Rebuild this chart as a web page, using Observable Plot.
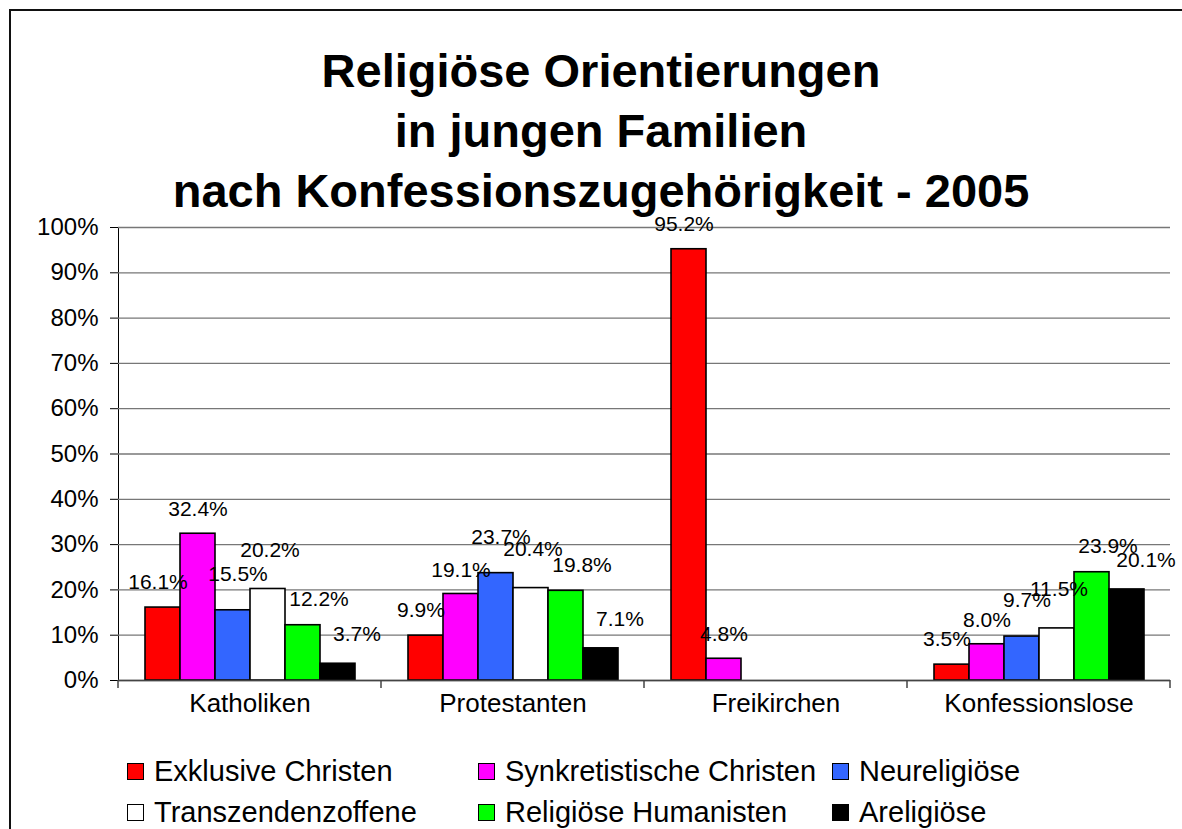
<!DOCTYPE html>
<html>
<head>
<meta charset="utf-8">
<script src="https://cdn.jsdelivr.net/npm/d3@7"></script>
<script src="https://cdn.jsdelivr.net/npm/@observablehq/plot@0.6"></script>
<style>
  html, body { margin: 0; padding: 0; background: #fff; width: 1182px; height: 829px; overflow: hidden; }
  body { position: relative; font-family: "Liberation Sans", Arial, sans-serif; }
  #border { position: absolute; left: 9px; top: 9px; width: 2000px; height: 2000px;
            border-left: 2px solid #111; border-top: 2px solid #111; box-sizing: border-box; }
  #title { position: absolute; left: 0; top: 41px; width: 1202px; text-align: center;
           font-size: 47px; font-weight: bold; line-height: 60px; color: #000; }
  #chart { position: absolute; left: 0; top: 200px; }
  #chart svg [aria-label="fx-axis tick label"] { font-size: 26px; }
  .item { position: absolute; height: 34px; line-height: 34px; font-size: 29px; color: #000; white-space: nowrap; }
  .sw { display: inline-block; width: 15px; height: 15px; border: 1.5px solid #000; margin-right: 10px; vertical-align: 1px; }
</style>
</head>
<body>
<div id="border"></div>
<div id="title">Religiöse Orientierungen<br>in jungen Familien<br>nach Konfessionszugehörigkeit - 2005</div>
<div id="chart"></div>
<div id="legend"></div>
<script>
// ---- data ----
const categories = ["Katholiken", "Protestanten", "Freikirchen", "Konfessionslose"];
const seriesNames = ["Exklusive Christen", "Synkretistische Christen", "Neureligiöse",
                     "Transzendenzoffene", "Religiöse Humanisten", "Areligiöse"];
const exklusiveChristen      = [16.1,  9.9, 95.2,  3.5];
const synkretistischeChristen = [32.4, 19.1,  4.8,  8.0];
const neureligioese          = [15.5, 23.7, null,  9.7];
const transzendenzoffene     = [20.2, 20.4, null, 11.5];
const religioeseHumanisten   = [12.2, 19.8, null, 23.9];
const areligioese            = [ 3.7,  7.1, null, 20.1];
const yTicks = [0, 10, 20, 30, 40, 50, 60, 70, 80, 90, 100];

// ---- styles ----
const seriesColors = ["#ff0000", "#ff00ff", "#3366ff", "#ffffff", "#00ff00", "#000000"];
const labelNudge = {
  "Exklusive Christen": {dx: -5, dy: -25},
  "Synkretistische Christen": {dx: 0, dy: -24},
  "Neureligiöse": {dx: 5, dy: -36},
  "Transzendenzoffene": {dx: 2, dy: -39},
  "Religiöse Humanisten": {dx: 16, dy: -26},
  "Areligiöse": {dx: 19, dy: -29}
};

const seriesValues = [exklusiveChristen, synkretistischeChristen, neureligioese,
                      transzendenzoffene, religioeseHumanisten, areligioese];
const rows = [];
seriesNames.forEach((s, i) => {
  categories.forEach((c, j) => {
    const v = seriesValues[i][j];
    if (v != null) rows.push({category: c, series: s, value: v});
  });
});

const fmt = d3.format(".1f");

const chart = Plot.plot({
  width: 1182,
  height: 540,
  marginTop: 27,
  marginBottom: 60,
  marginLeft: 118,
  marginRight: 12,
  style: {fontFamily: "Liberation Sans, Arial, sans-serif", fontSize: "24px", background: "transparent", overflow: "visible", color: "#000"},
  fx: {domain: categories, padding: 0, axis: "bottom", tickSize: 0, tickPadding: 13, label: null},
  x: {domain: seriesNames, paddingInner: 0, paddingOuter: 0.755, axis: null},
  y: {domain: [0, 100], ticks: yTicks, tickFormat: d => d + "%", tickSize: 8, tickPadding: 12, line: true, label: null},
  color: {domain: seriesNames, range: seriesColors},
  marks: [
    Plot.gridY(yTicks, {stroke: "#777", strokeOpacity: 1, strokeWidth: 1.3}),
    Plot.barY(rows, {fx: "category", x: "series", y: "value", fill: "series", stroke: "#000", strokeWidth: 1.6}),
    Plot.ruleY([0], {stroke: "#444", strokeWidth: 1.5}),
    ...seriesNames.map(s => Plot.text(rows.filter(d => d.series === s), {
      fx: "category", x: "series", y: "value",
      text: d => fmt(d.value) + "%",
      dx: labelNudge[s].dx, dy: labelNudge[s].dy,
      fontSize: 21, fill: "#000"
    }))
  ]
});

// group boundary ticks on the x axis, from the fx and y scales
const fx = chart.scale("fx");
const ys = chart.scale("y");
const y0 = ys.apply(0);
const bounds = categories.map(c => fx.apply(c));
bounds.push(fx.apply(categories[categories.length - 1]) + fx.bandwidth);
const g = d3.select(chart).append("g").attr("aria-label", "group ticks");
bounds.forEach(b => {
  g.append("line").attr("x1", b).attr("x2", b).attr("y1", y0).attr("y2", y0 + 8)
    .attr("stroke", "#444").attr("stroke-width", 1.5);
});

document.getElementById("chart").appendChild(chart);

// legend
const legendCols = [127, 478, 832];
const legendRows = [754, 795];
const legend = document.getElementById("legend");
seriesNames.forEach((s, i) => {
  const item = document.createElement("div");
  item.className = "item";
  item.style.left = legendCols[i % 3] + "px";
  item.style.top = legendRows[Math.floor(i / 3)] + "px";
  const sw = document.createElement("span");
  sw.className = "sw";
  sw.style.background = seriesColors[i];
  item.appendChild(sw);
  item.appendChild(document.createTextNode(s));
  legend.appendChild(item);
});
</script>
</body>
</html>
